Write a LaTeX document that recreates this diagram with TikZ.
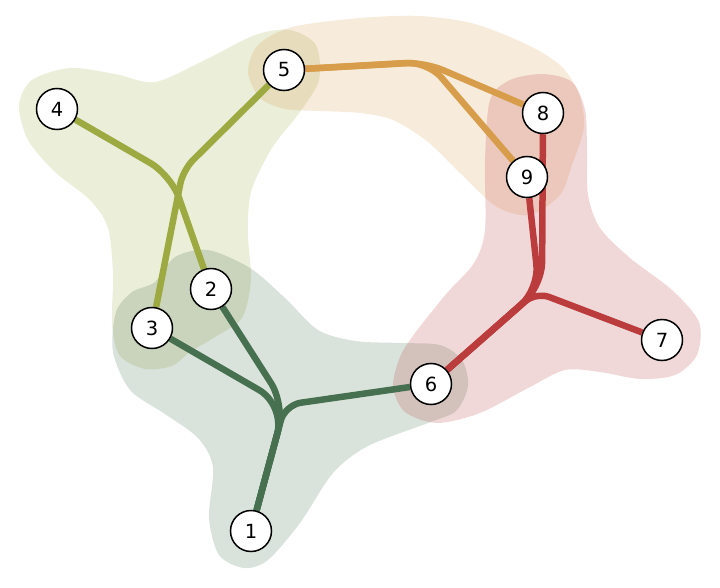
\documentclass[tikz,border=0pt]{standalone}
\usepackage{fontspec}
\setmainfont{DejaVu Sans}
\usetikzlibrary{backgrounds}

\definecolor{hyolive}{HTML}{9DAA42}
\definecolor{hygreen}{HTML}{46704F}
\definecolor{hyorange}{HTML}{D89D4B}
\definecolor{hyred}{HTML}{BB3C3D}

\begin{document}
\begin{tikzpicture}[x=1pt, y=-1pt,
    vertex/.style={circle, draw, line width=1.5pt, fill=white, minimum size=41pt, inner sep=0pt, font=\fontsize{19.5}{20}\selectfont},
    hedge/.style={line width=6.5pt, rounded corners=20pt, line join=round},
    blob/.style={fill opacity=0.2}]
    \useasboundingbox (0,0) rectangle (720,588);

    \node[vertex] (n1) at (251,531) {1};
    \node[vertex] (n2) at (211,289) {2};
    \node[vertex] (n3) at (152,328) {3};
    \node[vertex] (n4) at (57,109) {4};
    \node[vertex] (n5) at (284,70) {5};
    \node[vertex] (n6) at (431,384) {6};
    \node[vertex] (n7) at (662,340) {7};
    \node[vertex] (n8) at (543,113) {8};
    \node[vertex] (n9) at (527,177) {9};

    \coordinate (jol42) at (171,175);
    \coordinate (jol53) at (183,170);
    \coordinate (jgr) at (285,405);
    \coordinate (jor8) at (424,62);
    \coordinate (jor9) at (428,62);
    \coordinate (jr8) at (542,286);
    \coordinate (jr9) at (539,289);
    \coordinate (jr7) at (536,292);

    \begin{scope}[on background layer]
        % hyperedges
        \fill[blob, hyolive] plot[smooth cycle] coordinates {(19,105) (32,80) (70,68) (115,74) (155,82) (205,60) (255,35) (290,30) (316,45) (319,80) (300,112) (272,148) (251,192) (248,235) (251,280) (242,318) (215,337) (190,352) (172,366) (145,369) (120,356) (112,325) (113,275) (108,228) (90,200) (55,172) (28,140)};
        \fill[blob, hygreen] plot[smooth cycle] coordinates {(208,250) (250,268) (285,298) (318,330) (355,341) (400,343) (440,345) (462,360) (468,386) (456,411) (428,423) (368,446) (333,473) (300,523) (268,560) (244,568) (219,555) (209,518) (213,467) (198,438) (165,414) (130,390) (113,352) (116,312) (132,292) (155,282) (175,257)};
        \fill[blob, hyorange] plot[smooth cycle] coordinates {(248,72) (258,45) (292,27) (360,18) (420,16) (475,24) (530,46) (562,67) (579,94) (584,127) (572,165) (560,195) (530,215) (497,207) (462,175) (428,142) (393,120) (360,113) (320,111) (285,109) (260,98)};
        \fill[blob, hyred] plot[smooth cycle] coordinates {(490,100) (510,80) (543,74) (572,82) (585,110) (587,150) (588,195) (600,228) (630,258) (672,290) (699,322) (697,355) (675,375) (640,379) (600,372) (565,370) (530,387) (480,413) (437,423) (405,412) (393,387) (400,357) (415,333) (447,293) (474,263) (485,230) (485,160)};

        % trees
        \draw[hedge, hyolive, rounded corners=24pt] (n4) -- (jol42) -- (n2);
        \draw[hedge, hyolive, rounded corners=14pt] (n5) -- (jol53) -- (n3);
        \draw[hedge, hygreen, rounded corners=30pt] (n3) -- (jgr) -- (n1);
        \draw[hedge, hygreen, rounded corners=26pt] (n2) -- (jgr) -- (n1);
        \draw[hedge, hygreen, rounded corners=16pt] (n6) -- (jgr) -- (n1);
        \draw[hedge, hyorange] (n5) -- (jor8) -- (n8);
        \draw[hedge, hyorange] (n5) -- (jor9) -- (n9);
        \draw[hedge, hyred, rounded corners=24pt] (n8) -- (jr8) -- (n6);
        \draw[hedge, hyred, rounded corners=24pt] (n9) -- (jr9) -- (n6);
        \draw[hedge, hyred, rounded corners=14pt] (n7) -- (jr7) -- (n6);
    \end{scope}
\end{tikzpicture}
\end{document}
